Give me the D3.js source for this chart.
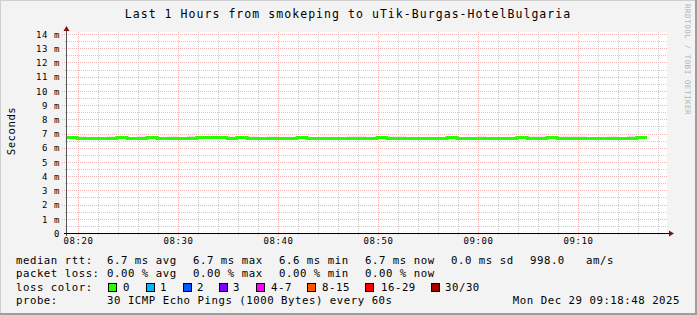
<!DOCTYPE html>
<html>
<head>
<meta charset="utf-8">
<script src="https://cdn.jsdelivr.net/npm/d3@7"></script>
<style>
  body { margin: 0; background: #f3f3f3; }
  text { font-family: "DejaVu Sans Mono", monospace; fill: #000; }
</style>
</head>
<body>
<svg id="chart"></svg>
<script>
// taille de l'image
var WIDTH = 697;
var HEIGHT = 315;

// données (médiane par minute, en ms)
const startTime = new Date(2025, 11, 29, 8, 18, 54);
const endTime = new Date(2025, 11, 29, 9, 18, 54);
const stepSeconds = 60;
const median = [
  6.72, 6.65, 6.65, 6.65, 6.65, 6.72, 6.65, 6.65, 6.72, 6.65,
  6.65, 6.65, 6.65, 6.72, 6.72, 6.72, 6.65, 6.72, 6.65, 6.65,
  6.65, 6.65, 6.65, 6.72, 6.65, 6.65, 6.65, 6.65, 6.65, 6.65,
  6.65, 6.72, 6.65, 6.65, 6.65, 6.65, 6.65, 6.65, 6.72, 6.65,
  6.65, 6.65, 6.65, 6.65, 6.65, 6.72, 6.65, 6.65, 6.72, 6.65,
  6.65, 6.65, 6.65, 6.65, 6.65, 6.65, 6.65, 6.72
];
// haut de la fumée (smoke) par minute
const smokeHi = [
  6.70, 6.80, 6.70, 6.70, 6.80, 6.70, 6.70, 6.80, 6.70, 6.70,
  6.80, 6.70, 6.84, 6.70, 6.84, 6.84, 6.80, 6.70, 6.80, 6.70,
  6.80, 6.70, 6.70, 6.70, 6.70, 6.70, 6.70, 6.70, 6.80, 6.80,
  6.70, 6.70, 6.80, 6.80, 6.70, 6.70, 6.70, 6.70, 6.70, 6.70,
  6.70, 6.80, 6.70, 6.70, 6.70, 6.70, 6.80, 6.80, 6.70, 6.80,
  6.80, 6.80, 6.70, 6.70, 6.80, 6.70, 6.84, 6.70
];

// graduations
const yTicks = [0, 1, 2, 3, 4, 5, 6, 7, 8, 9, 10, 11, 12, 13, 14];
const yMinor = [0.5, 1.5, 2.5, 3.5, 4.5, 5.5, 6.5, 7.5, 8.5, 9.5, 10.5, 11.5, 12.5, 13.5];
const xTickLabels = ["08:20", "08:30", "08:40", "08:50", "09:00", "09:10"];
const xMinorLabels = ["08:22", "08:24", "08:26", "08:28", "08:32", "08:34", "08:36", "08:38",
  "08:42", "08:44", "08:46", "08:48", "08:52", "08:54", "08:56", "08:58",
  "09:02", "09:04", "09:06", "09:08", "09:12", "09:14", "09:16", "09:18"];

// légende
const lossLabels = ["0", "1", "2", "3", "4-7", "8-15", "16-29", "30/30"];
const lossColors = ["#26ff00", "#00b8ff", "#0059ff", "#7e00ff", "#ff00ff", "#ff5500", "#ff0000", "#a10000"];
const rttStats = ["6.7 ms avg", "6.7 ms max", "6.6 ms min", "6.7 ms now", "0.0 ms sd", "998.0", "am/s"];
const lossStats = ["0.00 % avg", "0.00 % max", "0.00 % min", "0.00 % now"];
const title = "Last 1 Hours from smokeping to uTik-Burgas-HotelBulgaria";
const probeText = "30 ICMP Echo Pings (1000 Bytes) every 60s";
const dateText = "Mon Dec 29 09:18:48 2025";

const parseHM = d3.timeParse("%Y-%m-%d %H:%M");
const toDate = s => parseHM("2025-12-29 " + s);

// création du svg
const svg = d3.select('#chart')
  .attr('width', WIDTH)
  .attr('height', HEIGHT);

// fond et bordures
svg.append('rect').attr('width', WIDTH).attr('height', HEIGHT).attr('fill', '#f3f3f3');
svg.append('rect').attr('x', 0).attr('y', 0).attr('width', WIDTH).attr('height', 1).attr('fill', '#cfcfcf');
svg.append('rect').attr('x', 0).attr('y', 0).attr('width', 1).attr('height', HEIGHT).attr('fill', '#cfcfcf');
svg.append('rect').attr('x', 0).attr('y', HEIGHT - 2).attr('width', WIDTH).attr('height', 2).attr('fill', '#9e9e9e');
svg.append('rect').attr('x', WIDTH - 2).attr('y', 0).attr('width', 2).attr('height', HEIGHT).attr('fill', '#9e9e9e');

// échelles
const x = d3.scaleTime().domain([startTime, endTime]).range([67, 667]);
const y = d3.scaleLinear().domain([0, 14]).range([233, 34]);

// zone blanche du graphique
svg.append('rect')
  .attr('x', 67).attr('y', 32)
  .attr('width', 600).attr('height', 201)
  .attr('fill', '#ffffff');

const grid = svg.append('g');

// grille secondaire
grid.selectAll('.hmin').data(yMinor).enter().append('line')
  .attr('x1', 65).attr('x2', 667)
  .attr('y1', d => Math.round(y(d)) + 0.5).attr('y2', d => Math.round(y(d)) + 0.5)
  .attr('stroke', '#cccccc').attr('stroke-dasharray', '1,1');
grid.selectAll('.vmin').data(xMinorLabels).enter().append('line')
  .attr('x1', d => Math.round(x(toDate(d))) + 0.5).attr('x2', d => Math.round(x(toDate(d))) + 0.5)
  .attr('y1', 32).attr('y2', 235)
  .attr('stroke', '#cccccc').attr('stroke-dasharray', '1,1');

// grille principale
grid.selectAll('.hmaj').data(yTicks.filter(d => d > 0)).enter().append('line')
  .attr('x1', 62).attr('x2', 667)
  .attr('y1', d => Math.round(y(d)) + 0.5).attr('y2', d => Math.round(y(d)) + 0.5)
  .attr('stroke', '#f0b4b4').attr('stroke-dasharray', '1,1');
grid.selectAll('.vmaj').data(xTickLabels).enter().append('line')
  .attr('x1', d => Math.round(x(toDate(d))) + 0.5).attr('x2', d => Math.round(x(toDate(d))) + 0.5)
  .attr('y1', 32).attr('y2', 237)
  .attr('stroke', '#f0b4b4').attr('stroke-dasharray', '1,1');

// fumée
const times = median.map((v, i) => new Date(startTime.getTime() + i * stepSeconds * 1000));
const nextTime = i => new Date(startTime.getTime() + (i + 1) * stepSeconds * 1000);
svg.append('g').selectAll('rect').data(median).enter().append('rect')
  .attr('x', (d, i) => x(times[i]))
  .attr('width', (d, i) => x(nextTime(i)) - x(times[i]))
  .attr('y', (d, i) => y(smokeHi[i]))
  .attr('height', (d, i) => Math.max(0, y(d) - y(smokeHi[i])))
  .attr('fill', '#dcdcdc');

// ligne médiane
const points = median.map((v, i) => [times[i], v]);
points.push([nextTime(median.length - 1), median[median.length - 1]]);
const line = d3.line()
  .x(d => x(d[0]))
  .y(d => y(d[1]))
  .curve(d3.curveStepAfter);
svg.append('path')
  .datum(points)
  .attr('d', line)
  .attr('fill', 'none')
  .attr('stroke', lossColors[0])
  .attr('stroke-width', 3);

// axes
svg.append('line').attr('x1', 66.5).attr('x2', 66.5).attr('y1', 30).attr('y2', 236)
  .attr('stroke', '#555');
svg.append('line').attr('x1', 64).attr('x2', 670).attr('y1', 233.5).attr('y2', 233.5)
  .attr('stroke', '#000');
svg.append('path').attr('d', 'M669,230.5L674,233.5L669,236.5Z').attr('fill', '#7f1010');
svg.append('path').attr('d', 'M63.5,31L66.5,26L69.5,31Z').attr('fill', '#7f1010');

// étiquettes de l'axe y
const yAxis = d3.axisLeft(y)
  .tickValues(yTicks)
  .tickFormat(d => d === 0 ? "0" : d + " m")
  .tickSize(0)
  .tickPadding(7);
const gy = svg.append('g').attr('transform', 'translate(67,0)').call(yAxis);
gy.select('.domain').remove();
gy.selectAll('text')
  .attr('font-family', '"DejaVu Sans Mono", monospace')
  .attr('font-size', 9).attr('letter-spacing', 0.6)
  .attr('dy', '0.36em');

// étiquettes de l'axe x
const xAxis = d3.axisBottom(x)
  .tickValues(xTickLabels.map(toDate))
  .tickFormat(d3.timeFormat("%H:%M"))
  .tickSize(0)
  .tickPadding(5);
const gx = svg.append('g').attr('transform', 'translate(0,233)').call(xAxis);
gx.select('.domain').remove();
gx.selectAll('text')
  .attr('font-family', '"DejaVu Sans Mono", monospace')
  .attr('font-size', 9).attr('letter-spacing', 0.6);

// titre
svg.append('text')
  .attr('x', 348).attr('y', 17.5)
  .attr('text-anchor', 'middle')
  .attr('font-size', 11.5).attr('letter-spacing', 1.05)
  .text(title);

// titre vertical
svg.append('text')
  .attr('transform', 'translate(15,131) rotate(-90)')
  .attr('text-anchor', 'middle')
  .attr('font-size', 10.7).attr('letter-spacing', 0.5)
  .text('Seconds');

svg.append('text')
  .attr('transform', 'translate(685,4) rotate(90)')
  .attr('font-size', 7.6).attr('letter-spacing', 0.48)
  .style('fill', '#b4b4b4')
  .text('RRDTOOL / TOBI OETIKER');

// légende
const legend = svg.append('g')
  .attr('font-size', 10.7).attr('letter-spacing', 0.53)
  .style('white-space', 'pre');
const statX = [107, 193, 279, 365, 451, 530, 586];
const row = [263.5, 277, 290.7, 304.3];

legend.append('text').attr('x', 16).attr('y', row[0]).text('median rtt:');
legend.selectAll('.rtt').data(rttStats).enter().append('text')
  .attr('x', (d, i) => statX[i]).attr('y', row[0]).text(d => d);

legend.append('text').attr('x', 16).attr('y', row[1]).text('packet loss:');
legend.selectAll('.loss').data(lossStats).enter().append('text')
  .attr('x', (d, i) => statX[i]).attr('y', row[1]).text(d => d);

legend.append('text').attr('x', 16).attr('y', row[2]).text('loss color:');
const boxX = [108, 146, 183, 219, 256, 307, 365, 431];
const labX = [123, 160, 197, 233, 271, 322, 381, 445];
legend.selectAll('.box').data(lossColors).enter().append('rect')
  .attr('x', (d, i) => boxX[i] + 0.5).attr('y', 283.5)
  .attr('width', 8).attr('height', 8)
  .attr('fill', d => d).attr('stroke', '#000');
legend.selectAll('.lab').data(lossLabels).enter().append('text')
  .attr('x', (d, i) => labX[i]).attr('y', row[2]).text(d => d);

legend.append('text').attr('x', 16).attr('y', row[3]).text('probe:');
legend.append('text').attr('x', 107).attr('y', row[3]).text(probeText);
legend.append('text').attr('x', 680).attr('y', row[3]).attr('text-anchor', 'end').text(dateText);
</script>
</body>
</html>
